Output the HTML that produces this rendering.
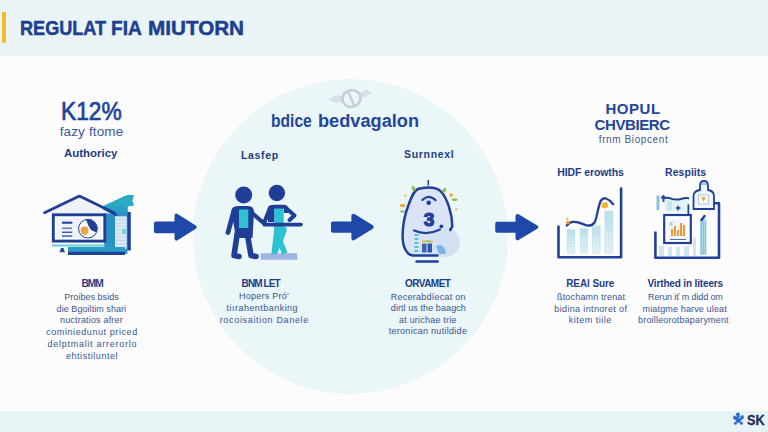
<!DOCTYPE html>
<html><head><meta charset="utf-8"><style>
html,body{margin:0;padding:0;}
body{width:768px;height:432px;overflow:hidden;position:relative;background:#fcfcfd;font-family:"Liberation Sans",sans-serif;}
.t{position:absolute;white-space:nowrap;line-height:1;}
#hdr{position:absolute;left:0;top:0;width:768px;height:56px;background:#eaf4f6;}
#bar{position:absolute;left:2px;top:12px;width:4.3px;height:31px;background:#f3bc28;border-radius:1px;}
#ftr{position:absolute;left:0;top:411px;width:768px;height:21px;background:#e8f3f5;}
#circ{position:absolute;left:193px;top:79px;width:315px;height:315px;border-radius:50%;background:#eaf6f8;}
svg{position:absolute;left:0;top:0;}
</style></head><body>
<div id="hdr"></div><div id="bar"></div><div id="ftr"></div><div id="circ"></div>
<svg width="768" height="432" viewBox="0 0 768 432">
<!-- arrows -->
<g fill="#1f49a8" stroke="#1f49a8" stroke-width="4" stroke-linejoin="round">
<path d="M155.9 223.5 L176.5 223.5 L176.5 215.6 L194.7 227.1 L176.5 238.6 L176.5 231.3 L155.9 231.3 Z"/>
<path d="M333.0 223.4 L353.4 223.4 L353.4 215.7 L371.7 227.0 L353.4 238.4 L353.4 230.8 L333.0 230.8 Z"/>
<path d="M497.2 223.7 L517.5 223.7 L517.5 215.9 L536.3 227.1 L517.5 238.3 L517.5 230.8 L497.2 230.8 Z"/>
</g>
<!-- icon 1 house/monitor -->
<g>
<polygon points="102.5,206.2 125.8,195.5 128.3,194.7 134.2,195.3 132.3,200.5 134.2,205.5 128,206.5" fill="#2aabbf"/>
<rect x="104.2" y="206" width="23.3" height="47.8" fill="#2a92c2"/>
<rect x="104.2" y="206" width="23.3" height="6" fill="#2a9fc6"/>
<rect x="127.3" y="212" width="3.5" height="38.5" fill="#21409a"/>
<rect x="115" y="216.3" width="11.7" height="32.5" fill="#dce9f4"/>
<g stroke="#a9cce6" stroke-width="0.9" stroke-dasharray="2 1"><line x1="116" y1="219.5" x2="125.5" y2="219.5"/><line x1="116" y1="223" x2="125.5" y2="223"/><line x1="116" y1="226.5" x2="125.5" y2="226.5"/><line x1="116" y1="230" x2="125.5" y2="230"/><line x1="116" y1="233.5" x2="125.5" y2="233.5"/><line x1="116" y1="237" x2="125.5" y2="237"/><line x1="116" y1="240.5" x2="125.5" y2="240.5"/><line x1="116" y1="244" x2="125.5" y2="244"/></g>
<rect x="122" y="229" width="3.5" height="5" fill="#6fd0dc"/>
<polygon points="46,213 79.5,197 113,213.5" fill="#edf2f9"/>
<polyline points="44.5,212.7 79.4,196 114.5,213" fill="none" stroke="#1f3e94" stroke-width="2.7" stroke-linecap="round" stroke-linejoin="round"/>
<line x1="104" y1="208.5" x2="116" y2="214.8" stroke="#1f3e94" stroke-width="2.5" stroke-linecap="round"/>
<rect x="53.3" y="214.8" width="51.5" height="26.3" fill="#ffffff" stroke="#1f3e94" stroke-width="2.9"/>
<rect x="56.5" y="218" width="45" height="20" fill="#eef3fa"/>
<rect x="62" y="221.6" width="10.3" height="2.2" fill="#2a4fa8"/>
<rect x="62" y="227.5" width="10" height="1.4" fill="#5a7ab8"/>
<rect x="62" y="231.6" width="10.3" height="1.3" fill="#2a4fa8"/>
<rect x="62" y="235.4" width="10.3" height="1.3" fill="#2a4fa8"/>
<circle cx="87.9" cy="228.7" r="9.3" fill="#ffffff" stroke="#1f3e94" stroke-width="1"/>
<path d="M86 219.5 A9.3 9.3 0 0 1 96.5 232.5 L91 230 Q88 226 86 219.5 Z" fill="#1f3e94"/>
<path d="M80.5 230 Q81 226 84.5 226.5 Q88 226 88.5 229.5 Q89 234 85 235 Q81 235 80.5 230 Z" fill="#f0a347"/>
<rect x="52" y="244.4" width="52" height="2.2" fill="#6fcfdc"/>
<rect x="68" y="247" width="57" height="5.4" fill="#2a9dc4"/>
<rect x="68" y="251.8" width="57" height="3.2" fill="#1f3e94"/>
<path d="M59.5 252.3 L61 248 L63.5 248 L65 252.3 Z" fill="#2b4a9a"/>
</g>
<!-- icon 2 people -->
<g>
<rect x="260.7" y="253.2" width="36.5" height="6.6" fill="#9fb5e1"/>
<polygon points="274.5,227 286.5,227 286.5,231 277,254 271.3,254" fill="#2cc2d0"/>
<path d="M284 230 L279.8 241 L284.8 253.5" stroke="#2cc2d0" stroke-width="5.6" fill="none" stroke-linejoin="round"/>
<rect x="274.2" y="207.5" width="9.5" height="21" fill="#2cc2d0"/>
<circle cx="243.7" cy="194.9" r="8.5" fill="#1f3f96"/>
<circle cx="276.9" cy="193" r="8.2" fill="#1f3f96"/>
<g stroke="#1f3f96" stroke-linecap="round" stroke-linejoin="round" fill="none">
<path d="M234 210 L228 232.5" stroke-width="4.8"/>
<path d="M252 213 L263 222.5" stroke-width="4.2"/>
<path d="M237.5 232 L234 255.5 L239 256.5" stroke-width="5.6"/>
<path d="M247 232 L251 255.5 L256 256.5" stroke-width="5.6"/>
<path d="M270 208 L264.5 222" stroke-width="4.2"/>
<path d="M286.5 208.5 L294.5 215.6 L289.5 220" stroke-width="4"/>
<path d="M264 224.6 L301 224.6" stroke-width="3.6"/>
</g>
<path d="M231.5 212 Q231.5 206 237.5 206 L248 206 Q254 206 254 212 L252.5 238 L236 238 Z" fill="#1f3f96"/>
<rect x="239" y="209.5" width="9.3" height="18.5" fill="#2fc3d1"/>
<path d="M268 210 Q268 204.7 273.5 204.7 L283 204.7 Q288.7 204.7 288.7 210 L288.7 213 L284 213 L284 208.4 L274.2 208.4 L274.2 222 L268 222 Z" fill="#1f3f96"/>
</g>
<!-- icon 0 header small gray emblem -->
<g>
<path d="M327.8 99.5 L336 95.5 L342 96 L343 102 L335 102.5 Z" fill="#d6dee7"/>
<path d="M359.5 93 L366 89.5 L372 92.5 L366 96.5 L360 98 Z" fill="#d6dee7"/>
<ellipse cx="351.5" cy="98.5" rx="9.2" ry="8.3" transform="rotate(-20 351.5 98.5)" fill="none" stroke="#c9cdd6" stroke-width="2.6"/>
<path d="M349 93.4 L353.6 104.5" stroke="#c9cdd6" stroke-width="2.4" stroke-linecap="round"/>
</g>
<!-- icon 3 bulb -->
<g>
<path d="M428.3 187.4 C434 187.4 438.5 188.5 441.5 192 C446.5 198 452.3 212 452.3 226.5 L450.2 230 L440 236 L437.5 255.6 L413 255.6 C406 255 402.6 246 402.6 236 C402.6 224 405 214 408.5 205 C411 198 413.5 191 418 189 C421 187.8 424 187.4 428.3 187.4 Z" fill="#dae4f6"/>
<circle cx="444.9" cy="242.4" r="14.9" fill="#d3e1f5"/>
<path d="M450.2 230 L452.3 226.5 C452.3 212 446.5 198 441.5 192 C438.5 188.5 434 187.4 428.3 187.4 C424 187.4 421 187.8 418 189 C413.5 191 411 198 408.5 205 C405 214 402.6 224 402.6 236 C402.6 246 406 255 413 255.6 L437.5 255.6" fill="none" stroke="#21409a" stroke-width="2.5" stroke-linecap="round"/>
<line x1="428.3" y1="180" x2="428.3" y2="185.5" stroke="#21409a" stroke-width="1.5"/>
<line x1="416.6" y1="261.5" x2="437.6" y2="261.5" stroke="#21409a" stroke-width="2.6" stroke-linecap="round"/>
<path d="M422.3 200 Q428.5 193.5 435.6 200.2" stroke="#21409a" stroke-width="2.2" fill="none" stroke-linecap="round"/>
<circle cx="428.7" cy="202.8" r="2.3" fill="#21409a"/>
<text x="429" y="225.8" font-family="Liberation Sans" font-weight="700" font-size="19" fill="#21409a" stroke="#21409a" stroke-width="1.2" text-anchor="middle">3</text>
<circle cx="441.4" cy="226.3" r="1.9" fill="#21409a"/>
<path d="M414 230.5 Q427 236 440 229.5" stroke="#21409a" stroke-width="2.2" fill="none" stroke-linecap="round"/>
<g fill="#4cc4d8"><rect x="414.5" y="234" width="4" height="2"/><rect x="414.5" y="238" width="4" height="2"/><rect x="414.5" y="242" width="4" height="2"/><rect x="414.5" y="246" width="4" height="2"/><rect x="414.5" y="250" width="4" height="2"/></g>
<rect x="422" y="240.5" width="11" height="1.6" fill="#e8b04a"/>
<rect x="426" y="240.5" width="4" height="1.6" fill="#8bc34a"/>
<rect x="422" y="243.5" width="4.5" height="9" fill="#3e63ad"/>
<rect x="427.5" y="243.5" width="4.5" height="9" fill="#2d57a8"/>
<path d="M436 246 Q441 243 445 249 L446 254 L439 254 Z" fill="#7fb3e8"/>
<g fill="#7fbf4f"><ellipse cx="413.6" cy="188.7" rx="1.6" ry="2.8" transform="rotate(-30 413.6 188.7)"/><ellipse cx="444.3" cy="190.4" rx="1.6" ry="2.8" transform="rotate(30 444.3 190.4)"/><ellipse cx="454.7" cy="199.7" rx="3" ry="1.2"/><ellipse cx="402.5" cy="211.5" rx="2.5" ry="1.1"/></g>
<g fill="#f3a93a"><ellipse cx="402.6" cy="205.5" rx="2.8" ry="1.8"/><ellipse cx="451.2" cy="195" rx="1.6" ry="2"/><ellipse cx="456.4" cy="209.5" rx="1.5" ry="1.3" fill="#f5c860"/><ellipse cx="405.5" cy="195.6" rx="1.1" ry="1.9" fill="#f5c860"/></g>
</g>
<!-- icon 4 chart -->
<g>
<defs><linearGradient id="bg4" x1="0" y1="0" x2="0" y2="1"><stop offset="0" stop-color="#b8dfea"/><stop offset="1" stop-color="#dcedf4"/></linearGradient></defs>
<g fill="url(#bg4)">
<rect x="566.8" y="229.3" width="8.4" height="24.5"/>
<rect x="579.8" y="228.3" width="8.3" height="25.5"/>
<rect x="591.9" y="225.6" width="8.7" height="28.2"/>
<rect x="604.5" y="210.7" width="8.7" height="43.1"/>
</g>
<g stroke="#ffffff" stroke-width="1" stroke-dasharray="1.5 1.5" opacity="0.8"><line x1="569.5" y1="238" x2="569.5" y2="252"/><line x1="572.5" y1="238" x2="572.5" y2="252"/><line x1="582.5" y1="238" x2="582.5" y2="252"/><line x1="585.5" y1="238" x2="585.5" y2="252"/><line x1="594.5" y1="236" x2="594.5" y2="252"/><line x1="597.5" y1="236" x2="597.5" y2="252"/><line x1="607.5" y1="232" x2="607.5" y2="252"/><line x1="610.5" y1="232" x2="610.5" y2="252"/></g>
<polyline points="558.5,226.5 558.5,257.3 621.1,257.3 621.1,188.5" fill="none" stroke="#21409a" stroke-width="2.6" stroke-linejoin="round" stroke-linecap="round"/>
<path d="M566.8 225.6 C569 223 571 221.8 573.3 221.9 C576 222 578 222.3 579.8 222.8 C583 224 586 225.6 588.1 225.6 C591 225.6 593 224.8 594.5 222.5 C597 219 598 205 601 200.5 C602.5 198.5 604.5 198 606 198.5 C609 199.5 611 201.5 613.2 204.2" fill="none" stroke="#21409a" stroke-width="2.3" stroke-linecap="round"/>
<circle cx="604.8" cy="205.2" r="3.3" fill="#f3b540"/>
<circle cx="567.8" cy="222.3" r="1.9" fill="#f09a3a"/>
<circle cx="567.3" cy="218.8" r="1" fill="#f09a3a"/>
</g>
<!-- icon 5 -->
<g>
<g fill="#cfe6f2"><rect x="659" y="246" width="5" height="10"/><rect x="668" y="247" width="4" height="9"/><rect x="676" y="247" width="4" height="9"/><rect x="684" y="246" width="5" height="10"/><rect x="693" y="238" width="3" height="18"/></g>
<rect x="700" y="219" width="6.5" height="36" fill="#a9d6ea"/>
<g stroke="#6fbcd8" stroke-width="0.7"><line x1="701.5" y1="222" x2="701.5" y2="254"/><line x1="703.5" y1="222" x2="703.5" y2="254"/><line x1="705.5" y1="222" x2="705.5" y2="254"/></g>
<path d="M701.5 220 L704.5 216" stroke="#21409a" stroke-width="2.4" stroke-linecap="round"/>
<polyline points="655.4,231.4 655.4,257.7 719,257.7 719,203.3 713,203.3" fill="none" stroke="#21409a" stroke-width="2.6" stroke-linejoin="round"/>
<path d="M664 199.5 L689 199.5 L689 212 L665 212 Z" fill="#e3f3f6"/>
<rect x="667" y="201" width="5" height="9" fill="#c4e6ee"/>
<line x1="688.4" y1="204.3" x2="688.4" y2="214" stroke="#21409a" stroke-width="1.8"/>
<path d="M663 198.5 Q667 197 671 198.6 Q676 200.3 681 199 Q685 197.8 689 198.2" fill="none" stroke="#21409a" stroke-width="2"/>
<rect x="656.5" y="195.6" width="3" height="14.6" fill="#86c3dc"/>
<path d="M663.5 195 L663.5 202 M661 197.5 L665.5 197.5" stroke="#21409a" stroke-width="1.8"/>
<path d="M675.8 208.1 L680.4 208.1 M678.1 205.8 L678.1 210.4" stroke="#21409a" stroke-width="1.5"/>
<rect x="664.2" y="215" width="26.6" height="28" fill="#ffffff" stroke="#21409a" stroke-width="2.2"/>
<rect x="668" y="219" width="19" height="20" fill="#f2f6fb"/>
<g fill="#ef9a3a"><rect x="671" y="229" width="2" height="7"/><rect x="674" y="226" width="2" height="10"/><rect x="677" y="230" width="2" height="6"/><rect x="680" y="223" width="2.2" height="13"/><rect x="683" y="225" width="2" height="11"/></g>
<rect x="669.5" y="222" width="3" height="4" fill="#a9d6ea"/>
<line x1="670" y1="239.5" x2="686" y2="239.5" stroke="#3a5aa8" stroke-width="0.9"/>
<path d="M700 186 Q700 181 704 181 Q708 181 708 186 L708 190 Q714 191 714 196 L714 209 L693.5 209 L693.5 196 Q693.5 191 700 190 Z" fill="#eef5fb" stroke="#21409a" stroke-width="1.8"/>
<path d="M701 184 L707 184" stroke="#6fbcd8" stroke-width="1.4"/>
<rect x="698.5" y="195" width="10" height="9" fill="#ffffff" stroke="#8fb3d8" stroke-width="0.7"/>
<path d="M701 197 L706 197 L703.5 202 Z" fill="#f2b04a"/>
</g>
<!-- SK logo -->
<g fill="#2c6ad4">
<circle cx="738" cy="414.6" r="2"/>
<ellipse cx="738.5" cy="418.5" rx="3.6" ry="2.6"/>
<ellipse cx="734.6" cy="417.6" rx="1.4" ry="2.1"/>
<ellipse cx="742.4" cy="417.2" rx="1.4" ry="2.1"/>
<ellipse cx="738.3" cy="421.2" rx="2.3" ry="1.8"/>
<circle cx="735.4" cy="423.3" r="1.5"/>
<circle cx="741.4" cy="423.3" r="1.5"/>
<circle cx="739.6" cy="417.8" r="1" fill="#9cc0f0"/>
</g>
</svg>

<div class="t" style="left:19.70px;top:18.47px;font-size:20px;font-weight:700;color:#1e3f8f;-webkit-text-stroke:0.5px #1e3f8f;transform:scaleX(0.9047);transform-origin:0 0;">REGULAT</div>
<div class="t" style="left:111.34px;top:18.47px;font-size:20px;font-weight:700;color:#1e3f8f;-webkit-text-stroke:0.5px #1e3f8f;transform:scaleX(0.9554);transform-origin:0 0;">FIA</div>
<div class="t" style="left:147.72px;top:18.47px;font-size:20px;font-weight:700;color:#1e3f8f;-webkit-text-stroke:0.5px #1e3f8f;transform:scaleX(1.0332);transform-origin:0 0;">MIUTORN</div>
<div class="t" style="left:61.28px;top:99.24px;font-size:25px;font-weight:400;color:#1f4596;-webkit-text-stroke:0.7px #1f4596;transform:scaleX(0.9088);transform-origin:0 0;">K12%</div>
<div class="t" style="left:59.70px;top:125.07px;font-size:13.5px;font-weight:400;color:#3d5a94;letter-spacing:0.137px;">fazy ftome</div>
<div class="t" style="left:64.00px;top:148.27px;font-size:11.5px;font-weight:700;color:#1f3c86;letter-spacing:-0.034px;">Authoricy</div>
<div class="t" style="left:81.40px;top:279.37px;font-size:10.2px;font-weight:700;color:#1f3c86;letter-spacing:-1.022px;">BMM</div>
<div class="t" style="left:64.30px;top:292.88px;font-size:9px;font-weight:400;color:#3a5592;letter-spacing:0.031px;">Proibes bsids</div>
<div class="t" style="left:56.60px;top:305.18px;font-size:9px;font-weight:400;color:#3a5592;letter-spacing:0.057px;">die Bgoiltim shari</div>
<div class="t" style="left:60.00px;top:316.48px;font-size:9px;font-weight:400;color:#3a5592;letter-spacing:0.178px;">nuctratios afrer</div>
<div class="t" style="left:46.20px;top:328.38px;font-size:9px;font-weight:400;color:#3a5592;letter-spacing:0.581px;">cominiedunut priced</div>
<div class="t" style="left:47.40px;top:339.88px;font-size:9px;font-weight:400;color:#3a5592;letter-spacing:0.746px;">delptmalit arrerorlo</div>
<div class="t" style="left:65.90px;top:351.98px;font-size:9px;font-weight:400;color:#3a5592;letter-spacing:0.556px;">ehtistiluntel</div>
<div class="t" style="left:271.31px;top:113.29px;font-size:17.5px;font-weight:700;color:#24469a;transform:scaleX(0.8916);transform-origin:0 0;">bdice</div>
<div class="t" style="left:317.96px;top:113.29px;font-size:17.5px;font-weight:700;color:#24469a;transform:scaleX(1.0392);transform-origin:0 0;">bedvagalon</div>
<div class="t" style="left:241.00px;top:149.51px;font-size:10.5px;font-weight:700;color:#1f3c86;letter-spacing:0.674px;">Lasfep</div>
<div class="t" style="left:241.60px;top:279.24px;font-size:10px;font-weight:700;color:#1f3c86;letter-spacing:-0.905px;">BNM LET</div>
<div class="t" style="left:238.90px;top:292.48px;font-size:9px;font-weight:400;color:#3a5592;letter-spacing:0.258px;">Hopers Pró'</div>
<div class="t" style="left:226.60px;top:303.98px;font-size:9px;font-weight:400;color:#3a5592;letter-spacing:0.464px;">tiırahentbanking</div>
<div class="t" style="left:219.70px;top:316.08px;font-size:9px;font-weight:400;color:#3a5592;letter-spacing:0.670px;">rocoisaition Danele</div>
<div class="t" style="left:404.00px;top:148.71px;font-size:10.5px;font-weight:700;color:#1f3c86;letter-spacing:0.684px;">Surnnexl</div>
<div class="t" style="left:405.00px;top:279.44px;font-size:10px;font-weight:700;color:#1f3c86;letter-spacing:-0.528px;">ORVAMET</div>
<div class="t" style="left:390.80px;top:292.78px;font-size:9px;font-weight:400;color:#3a5592;letter-spacing:0.237px;">Recerabdíecat on</div>
<div class="t" style="left:390.80px;top:304.48px;font-size:9px;font-weight:400;color:#3a5592;letter-spacing:0.081px;">dirtl us the baagch</div>
<div class="t" style="left:399.00px;top:316.28px;font-size:9px;font-weight:400;color:#3a5592;letter-spacing:0.213px;">at urichae trie</div>
<div class="t" style="left:388.70px;top:327.38px;font-size:9px;font-weight:400;color:#3a5592;letter-spacing:0.286px;">teronican nutildide</div>
<div class="t" style="left:605.50px;top:101.00px;font-size:15px;font-weight:700;color:#24469a;letter-spacing:0.516px;">HOPUL</div>
<div class="t" style="left:594.60px;top:116.90px;font-size:15px;font-weight:700;color:#24469a;letter-spacing:-0.401px;">CHVBIERC</div>
<div class="t" style="left:598.80px;top:134.53px;font-size:10px;font-weight:400;color:#3d5a94;letter-spacing:0.599px;">frnm Biopcent</div>
<div class="t" style="left:557.30px;top:166.81px;font-size:10.5px;font-weight:700;color:#1f3c86;letter-spacing:-0.103px;">HIDF erowths</div>
<div class="t" style="left:566.20px;top:279.44px;font-size:10px;font-weight:700;color:#1f3c86;letter-spacing:-0.092px;">REAl Sure</div>
<div class="t" style="left:557.00px;top:292.78px;font-size:9px;font-weight:400;color:#3a5592;letter-spacing:0.176px;">ßtochamn trenat</div>
<div class="t" style="left:554.30px;top:304.58px;font-size:9px;font-weight:400;color:#3a5592;letter-spacing:0.356px;">bidina intnoret of</div>
<div class="t" style="left:568.80px;top:316.18px;font-size:9px;font-weight:400;color:#3a5592;letter-spacing:0.500px;">kitem tiile</div>
<div class="t" style="left:665.10px;top:167.31px;font-size:10.5px;font-weight:700;color:#1f3c86;letter-spacing:0.028px;">Respiits</div>
<div class="t" style="left:647.50px;top:279.44px;font-size:10px;font-weight:700;color:#1f3c86;letter-spacing:-0.148px;">Virthed in liteers</div>
<div class="t" style="left:648.10px;top:292.78px;font-size:9px;font-weight:400;color:#3a5592;letter-spacing:-0.130px;">Rerun iť m didd om</div>
<div class="t" style="left:642.60px;top:304.58px;font-size:9px;font-weight:400;color:#3a5592;letter-spacing:0.142px;">miatgme harve uleat</div>
<div class="t" style="left:638.10px;top:316.18px;font-size:9px;font-weight:400;color:#3a5592;letter-spacing:0.173px;">broilleorotbaparyment</div>
<div class="t" style="left:746.90px;top:412.30px;font-size:15px;font-weight:700;color:#1d2d5c;-webkit-text-stroke:0.3px #1d2d5c;transform:scaleX(0.8474);transform-origin:0 0;">SK</div>
</body></html>
